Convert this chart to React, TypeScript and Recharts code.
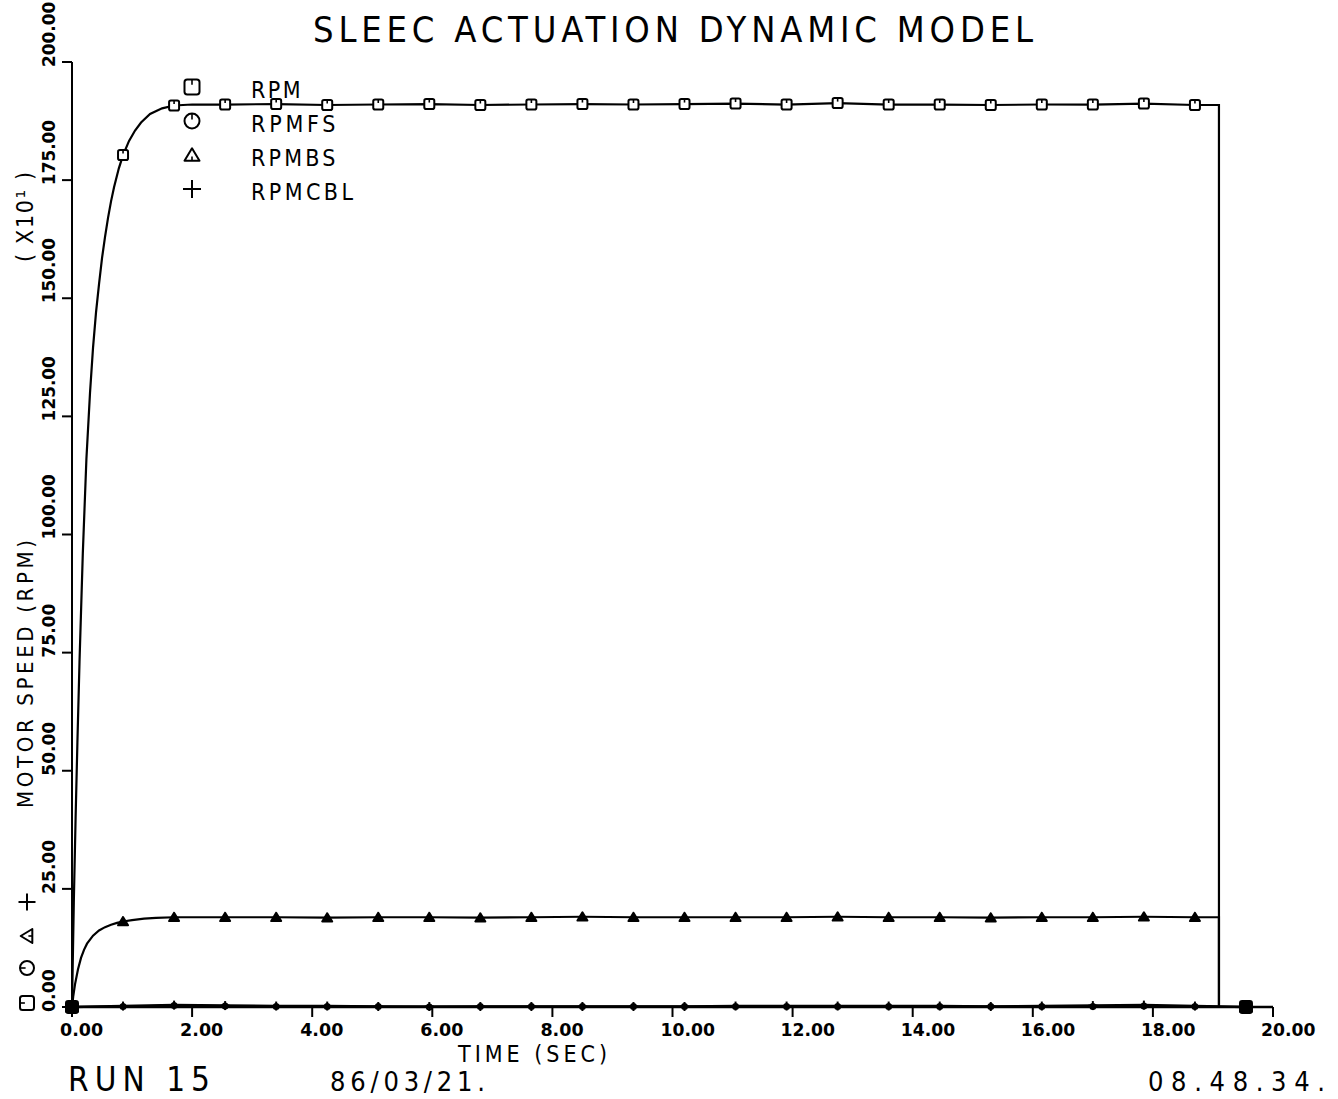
import React from "react";
import { ComposedChart, Line, XAxis, YAxis } from "recharts";

const timeTicks = [0, 2, 4, 6, 8, 10, 12, 14, 16, 18, 20];
const speedTicks = [0, 25, 50, 75, 100, 125, 150, 175, 200];

// plotter symbol is drawn every 0.85 s
const markerTimes = [
  0, 0.85, 1.7, 2.55, 3.4, 4.25, 5.1, 5.95, 6.8, 7.65, 8.5, 9.35, 10.2, 11.05,
  11.9, 12.75, 13.6, 14.45, 15.3, 16.15, 17.0, 17.85, 18.7, 19.55,
];

const plateauTimes = [
  2.55, 3.4, 4.25, 5.1, 5.95, 6.8, 7.65, 8.5, 9.35, 10.2, 11.05, 11.9, 12.75,
  13.6, 14.45, 15.3, 16.15, 17.0, 17.85, 18.7,
];

// RPM (x10)
const rpmRiseTime = [
  0, 0.03, 0.06, 0.09, 0.125, 0.18, 0.24, 0.3, 0.35, 0.4, 0.45, 0.5, 0.55, 0.6,
  0.65, 0.7, 0.78, 0.85, 0.95, 1.05, 1.15, 1.3, 1.5, 1.7, 2.0,
];
const rpmRise = [
  0, 22, 40, 56, 73, 96, 116, 130, 139.5, 147, 153, 158.5, 163, 167, 170.5,
  173.5, 177.5, 180.3, 183.3, 185.5, 187.2, 189, 190.2, 190.8, 191.0,
];
const rpmPlateau = [
  191.0, 191.1, 190.9, 191.0, 191.1, 190.9, 191.0, 191.1, 191.0, 191.1, 191.2,
  191.0, 191.3, 191.0, 191.0, 190.9, 191.0, 191.0, 191.2, 190.9,
];

// RPMBS
const bsRiseTime = [
  0, 0.02, 0.05, 0.1, 0.15, 0.2, 0.25, 0.35, 0.45, 0.55, 0.65, 0.75, 0.85, 1.0,
  1.2, 1.4, 1.7, 2.0,
];
const bsRise = [
  0, 2.2, 4.8, 8.0, 10.4, 12.1, 13.4, 15.1, 16.2, 16.9, 17.4, 17.8, 18.1, 18.4,
  18.7, 18.85, 19.0, 19.0,
];
const bsPlateau = [
  19.0, 19.0, 18.9, 19.0, 19.0, 18.9, 19.0, 19.1, 19.0, 19.0, 19.0, 19.0, 19.1,
  19.0, 19.0, 18.9, 19.0, 19.0, 19.1, 19.0,
];

// shut-off at the end of the run
const cutTime = [19.1, 19.1, 19.55];

// RPMFS, RPMCBL stay on the floor
const fsValues = [
  0, 0.1, 0.3, 0.2, 0.1, 0.1, 0.1, 0, 0.1, 0.1, 0.1, 0.1, 0.1, 0.1, 0.1, 0.1,
  0.1, 0.1, 0.1, 0.1, 0.1, 0.2, 0.1, 0,
];
const cblValues = [
  0, 0.2, 0.4, 0.3, 0.2, 0.2, 0.1, 0.1, 0.1, 0.1, 0.1, 0.1, 0.1, 0.2, 0.2, 0.2,
  0.2, 0.2, 0.1, 0.2, 0.3, 0.4, 0.2, 0,
];

type Pt = { t: number; v: number };
const toPoints = (ts: number[], vs: number[]): Pt[] =>
  ts.map((t, i) => ({ t, v: vs[i] }));
const atMarkers = (pts: Pt[]) => pts.filter((p) => markerTimes.includes(p.t));

const rpmCurve = toPoints(
  [...rpmRiseTime, ...plateauTimes, ...cutTime],
  [...rpmRise, ...rpmPlateau, rpmPlateau[rpmPlateau.length - 1], 0, 0]
);
const bsCurve = toPoints(
  [...bsRiseTime, ...plateauTimes, ...cutTime],
  [...bsRise, ...bsPlateau, bsPlateau[bsPlateau.length - 1], 0, 0]
);
const fsCurve = toPoints(markerTimes, fsValues);
const cblCurve = toPoints(markerTimes, cblValues);

const INK = "#000";
const FONT = "'DejaVu Sans Condensed', 'DejaVu Sans', sans-serif";

type Kind = "square" | "circle" | "triangle" | "plus";

function symbol(kind: Kind, cx: number, cy: number, s: number, filled = false, sw = 2) {
  const h = s / 2;
  const fill = filled ? INK : "#fff";
  if (kind === "square")
    return (
      <g>
        <rect x={cx - h} y={cy - h} width={s} height={s} rx={s * 0.18} fill={fill} stroke={INK} strokeWidth={sw} />
        <line x1={cx} y1={cy - h} x2={cx} y2={cy - h + s * 0.35} stroke={INK} strokeWidth={sw * 0.8} />
      </g>
    );
  if (kind === "circle")
    return (
      <g>
        <circle cx={cx} cy={cy} r={h} fill={filled ? INK : "none"} stroke={INK} strokeWidth={sw} />
        <line x1={cx} y1={cy - h} x2={cx} y2={cy - h + s * 0.4} stroke={INK} strokeWidth={sw * 0.8} />
      </g>
    );
  if (kind === "triangle")
    return (
      <g>
        <polygon
          points={`${cx - h},${cy + s * 0.38} ${cx + h},${cy + s * 0.38} ${cx},${cy - s * 0.45}`}
          fill={fill}
          stroke={INK}
          strokeWidth={sw}
          strokeLinejoin="round"
        />
        <line x1={cx} y1={cy + s * 0.38} x2={cx} y2={cy + s * 0.1} stroke={INK} strokeWidth={sw * 0.8} />
      </g>
    );
  return (
    <g stroke={INK} strokeWidth={sw}>
      <line x1={cx - h} y1={cy} x2={cx + h} y2={cy} />
      <line x1={cx} y1={cy - h} x2={cx} y2={cy + h} />
    </g>
  );
}

const dotFor = (kind: Kind, size: number, solid = false) => (props: any) => {
  const { cx, cy, payload, index } = props;
  const atZero = payload.v === 0 && (payload.t === 0 || payload.t === 19.55);
  return (
    <g key={`${kind}-${index}`}>
      {symbol(kind, cx, cy, atZero ? size + 2 : size, solid || atZero, 2)}
    </g>
  );
};

const XTick = (props: any) => {
  const { x, y, payload } = props;
  const label = Number(payload.value).toFixed(2);
  return (
    <text x={x - 12} y={y + 17} fontFamily={FONT} fontWeight={700} fontSize={17} fill={INK}
      textLength={label.length * 11.3 - 2} lengthAdjust="spacingAndGlyphs">
      {label}
    </text>
  );
};

const YTick = (props: any) => {
  const { x, y, payload } = props;
  const label = Number(payload.value).toFixed(2);
  return (
    <text transform={`translate(${x - 5},${y + 5}) rotate(-90)`} fontFamily={FONT} fontWeight={700}
      fontSize={17} fill={INK} textLength={label.length * 11.2 - 2} lengthAdjust="spacingAndGlyphs">
      {label}
    </text>
  );
};

const legendRows: { kind: Kind; name: string }[] = [
  { kind: "square", name: "RPM" },
  { kind: "circle", name: "RPMFS" },
  { kind: "triangle", name: "RPMBS" },
  { kind: "plus", name: "RPMCBL" },
];

function Annotations() {
  const legendY = [87, 121, 155, 189];
  const sideY = [1003, 968, 936, 902];
  return (
    <svg width={1338} height={1099} style={{ position: "absolute", left: 0, top: 0, pointerEvents: "none" }}>
      <text x={313} y={42} fontFamily={FONT} fontSize={36} fill={INK} textLength={720} lengthAdjust="spacing">
        SLEEC ACTUATION DYNAMIC MODEL
      </text>

      {legendRows.map((r, i) => (
        <g key={r.name}>
          {symbol(r.kind, 192, legendY[i], r.kind === "plus" ? 18 : 15)}
          <text x={251} y={legendY[i] + 11} fontFamily={FONT} fontSize={23} fill={INK}
            textLength={r.name.length * 17.5 - 3} lengthAdjust="spacing">
            {r.name}
          </text>
        </g>
      ))}

      <text transform="translate(33,808) rotate(-90)" fontFamily={FONT} fontSize={22} fill={INK}
        textLength={268} lengthAdjust="spacing">
        MOTOR SPEED (RPM)
      </text>
      <text transform="translate(33,262) rotate(-90)" fontFamily={FONT} fontSize={23} fill={INK}
        textLength={90} lengthAdjust="spacing">
        ( X10¹ )
      </text>
      {legendRows.map((r, i) => (
        <g key={`side-${r.name}`} transform={`rotate(-90,27,${sideY[i]})`}>
          {symbol(r.kind, 27, sideY[i], r.kind === "plus" ? 17 : 14)}
        </g>
      ))}

      <text x={458} y={1062} fontFamily={FONT} fontSize={23} fill={INK} textLength={149} lengthAdjust="spacing">
        TIME (SEC)
      </text>
      <text x={68} y={1091} fontFamily={FONT} fontSize={33} fill={INK} textLength={142} lengthAdjust="spacing">
        RUN 15
      </text>
      <text x={330} y={1091} fontFamily={FONT} fontSize={27} fill={INK} textLength={155} lengthAdjust="spacing">
        86/03/21.
      </text>
      <text x={1148} y={1091} fontFamily={FONT} fontSize={27} fill={INK} textLength={177} lengthAdjust="spacing">
        08.48.34.
      </text>
    </svg>
  );
}

export default function App() {
  return (
    <div style={{ position: "absolute", left: 0, top: 0, width: 1338, height: 1099, background: "#fff" }}>
      <ComposedChart width={1338} height={1099} margin={{ top: 62, right: 65, bottom: 0, left: 0 }}>
        <XAxis
          type="number"
          dataKey="t"
          domain={[0, 20]}
          ticks={timeTicks}
          interval={0}
          tickSize={10}
          height={92}
          axisLine={{ stroke: INK, strokeWidth: 2.5 }}
          tickLine={{ stroke: INK, strokeWidth: 2 }}
          tick={<XTick />}
        />
        <YAxis
          type="number"
          dataKey="v"
          domain={[0, 200]}
          ticks={speedTicks}
          interval={0}
          tickSize={10}
          width={72}
          axisLine={{ stroke: INK, strokeWidth: 2 }}
          tickLine={{ stroke: INK, strokeWidth: 2 }}
          tick={<YTick />}
        />

        <Line data={cblCurve} dataKey="v" type="linear" stroke={INK} strokeWidth={2.5} dot={false} activeDot={false} isAnimationActive={false} />
        <Line data={fsCurve} dataKey="v" type="linear" stroke={INK} strokeWidth={2} dot={false} activeDot={false} isAnimationActive={false} />
        <Line data={bsCurve} dataKey="v" type="linear" stroke={INK} strokeWidth={2.2} dot={false} activeDot={false} isAnimationActive={false} />
        <Line data={rpmCurve} dataKey="v" type="linear" stroke={INK} strokeWidth={2.2} dot={false} activeDot={false} isAnimationActive={false} />

        <Line data={atMarkers(cblCurve)} dataKey="v" stroke="none" dot={dotFor("plus", 9)} activeDot={false} isAnimationActive={false} />
        <Line data={atMarkers(fsCurve)} dataKey="v" stroke="none" dot={dotFor("circle", 5)} activeDot={false} isAnimationActive={false} />
        <Line data={atMarkers(bsCurve)} dataKey="v" stroke="none" dot={dotFor("triangle", 10, true)} activeDot={false} isAnimationActive={false} />
        <Line data={atMarkers(rpmCurve)} dataKey="v" stroke="none" dot={dotFor("square", 10)} activeDot={false} isAnimationActive={false} />
      </ComposedChart>
      <Annotations />
    </div>
  );
}
